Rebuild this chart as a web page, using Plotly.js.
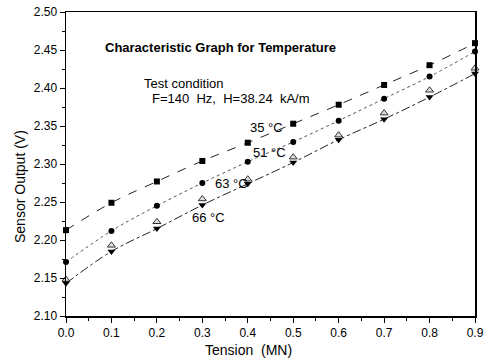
<!DOCTYPE html>
<html>
<head>
<meta charset="utf-8">
<script src="https://cdn.plot.ly/plotly-3.0.1.min.js"></script>
<style>html,body{margin:0;padding:0;background:#fff;}#chart{width:487px;height:361px;}</style>
</head>
<body>
<div id="chart"></div>
<script>
const tension = [0.0, 0.1, 0.2, 0.3, 0.4, 0.5, 0.6, 0.7, 0.8, 0.9];
const t35 = [2.213, 2.249, 2.277, 2.304, 2.328, 2.353, 2.378, 2.404, 2.430, 2.459];
const t51 = [2.171, 2.212, 2.245, 2.275, 2.303, 2.329, 2.357, 2.386, 2.415, 2.448];
const t63 = [2.148, 2.193, 2.224, 2.254, 2.280, 2.309, 2.338, 2.367, 2.397, 2.426];
const t66 = [2.143, 2.185, 2.215, 2.246, 2.274, 2.302, 2.332, 2.359, 2.388, 2.419];
const seriesNames = ['35 °C', '51 °C', '63 °C', '66 °C'];
const xTicks = ['0.0','0.1','0.2','0.3','0.4','0.5','0.6','0.7','0.8','0.9'];
const yTicks = ['2.10','2.15','2.20','2.25','2.30','2.35','2.40','2.45','2.50'];

const font = 'Liberation Sans, Arial, sans-serif';
const traces = [
  {x: tension, y: t35, name: seriesNames[0], mode: 'lines+markers', line: {color: '#222', width: 1, dash: 'dash', shape: 'spline'}, marker: {symbol: 'square', size: 6, color: '#000'}},
  {x: tension, y: t51, name: seriesNames[1], mode: 'lines+markers', line: {color: '#555', width: 1, dash: 'dot', shape: 'spline'}, marker: {symbol: 'circle', size: 6, color: '#000'}},
  {x: tension, y: t63, name: seriesNames[2], mode: 'markers', marker: {symbol: 'triangle-up', size: 7, color: '#ddd', line: {color: '#333', width: 1}}},
  {x: tension, y: t66, name: seriesNames[3], mode: 'lines+markers', line: {color: '#222', width: 1, dash: 'dashdot', shape: 'spline'}, marker: {symbol: 'triangle-down', size: 7, color: '#000'}}
];
traces.forEach(t => t.cliponaxis = false);

const ax = {
  showgrid: false, zeroline: false, showline: true, linecolor: '#000', linewidth: 1.5,
  ticks: 'outside', ticklen: 5, tickwidth: 1, tickcolor: '#000', mirror: true,
  tickfont: {family: font, size: 12, color: '#000'}
};

const notes = [
  {x: 220, y: 47, text: '<b>Characteristic Graph for Temperature</b>'},
  {x: 142, y: 83, text: 'Test condition', xanchor: 'left'},
  {x: 150, y: 98, text: 'F=140  Hz,  H=38.24  kA/m', xanchor: 'left'},
  {x: 266, y: 128, text: seriesNames[0]},
  {x: 269, y: 152, text: seriesNames[1]},
  {x: 231, y: 183, text: seriesNames[2]},
  {x: 208, y: 218, text: seriesNames[3]}
].map(a => ({
  xref: 'paper', yref: 'paper', showarrow: false, xanchor: a.xanchor || 'center', yanchor: 'middle',
  font: {family: font, size: 13, color: '#000000'},
  text: a.text, x: (a.x - 66) / 409, y: (316 - a.y) / 304
}));
// axis titles placed as in the reference
notes.push({xref: 'paper', yref: 'paper', showarrow: false, xanchor: 'center', yanchor: 'middle',
  x: (248 - 66) / 409, y: (316 - 350) / 304, text: 'Tension  (MN)', font: {family: font, size: 14, color: '#000000'}});
notes.push({xref: 'paper', yref: 'paper', showarrow: false, xanchor: 'center', yanchor: 'middle', textangle: -90,
  x: (20 - 66) / 409, y: (316 - 187) / 304, text: 'Sensor Output (V)', font: {family: font, size: 14, color: '#000000'}});

const layout = {
  width: 487, height: 361,
  margin: {l: 66, r: 12, t: 12, b: 45},
  paper_bgcolor: '#fff', plot_bgcolor: '#fff',
  showlegend: false,
  font: {family: font, color: '#000'},
  xaxis: Object.assign({}, ax, {
    range: [0, 0.9], tickmode: 'array', tickvals: tension, ticktext: xTicks,
    minor: {ticks: 'outside', ticklen: 3, tickcolor: '#000', dtick: 0.05},
    title: {text: ''}
  }),
  yaxis: Object.assign({}, ax, {
    range: [2.10, 2.50], tickmode: 'array', tickvals: yTicks.map(Number), ticktext: yTicks,
    minor: {ticks: 'outside', ticklen: 3, tickcolor: '#000', dtick: 0.025},
    title: {text: ''}
  }),
  annotations: notes
};

Plotly.newPlot('chart', traces, layout, {displayModeBar: false, staticPlot: true});
</script>
</body>
</html>
